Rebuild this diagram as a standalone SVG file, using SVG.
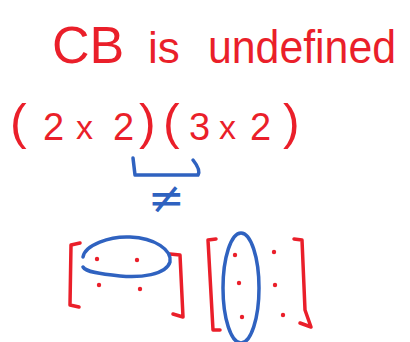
<svg xmlns="http://www.w3.org/2000/svg" width="410" height="342" viewBox="0 0 410 342">
<style>
.r{fill:none;stroke:#ea1f2a;stroke-width:3.5;stroke-linecap:round;stroke-linejoin:round}
.b{fill:none;stroke:#2f62c0;stroke-width:3.5;stroke-linecap:round;stroke-linejoin:round}
.rt{fill:#ea1f2a;font-family:"Liberation Sans",Arial,sans-serif}
.bt{fill:#2f62c0;font-family:"DejaVu Sans",sans-serif}
.d{fill:#ea1f2a}
</style>
<rect width="410" height="342" fill="#fff"/>
<g id="title">
<text class="rt" x="52" y="63" font-size="52">CB</text>
<text class="rt" x="148" y="63" font-size="44">is</text>
<text class="rt" x="208" y="63" font-size="46" textLength="188" lengthAdjust="spacingAndGlyphs">undefined</text>
</g>
<g id="dims">
<text class="rt" x="10" y="139" font-size="50">(</text>
<text class="rt" x="43" y="140" font-size="38">2</text>
<text class="rt" x="76" y="139" font-size="34">x</text>
<text class="rt" x="113" y="140" font-size="38">2</text>
<text class="rt" x="139" y="139" font-size="50">)</text>
<text class="rt" x="163" y="139" font-size="50">(</text>
<text class="rt" x="189" y="140" font-size="38">3</text>
<text class="rt" x="219" y="139" font-size="34">x</text>
<text class="rt" x="250" y="140" font-size="38">2</text>
<text class="rt" x="283" y="139" font-size="50">)</text>
</g>
<g id="connectors">
<path class="b" d="M133,158 L135,175 L198,175 Q201,170 193,160"/>
</g>
<g id="neq">
<text class="bt" x="148" y="213" font-size="44">≠</text>
</g>
<g id="matrixC">
<path class="r" d="M80,243 L71,245 L70,305 L79,307"/>
<path class="r" d="M170,254 L180,255 L183,317 L173,314"/>
<path class="b" d="M83,257 C85,245 110,236 130,237 C155,238 172,250 170,262 C166,275 140,278 120,276 C100,274 86,272 83,267"/>
<circle class="d" cx="97" cy="259" r="2.2"/>
<circle class="d" cx="137" cy="260" r="2.2"/>
<circle class="d" cx="99" cy="285" r="2.2"/>
<circle class="d" cx="140" cy="289" r="2.2"/>
</g>
<g id="matrixB">
<path class="r" d="M216,239 L208,240 L213,330 L220,330"/>
<path class="r" d="M294,239 L302,240 L305,310 L311,327 L300,323"/>
<ellipse class="b" cx="241" cy="288" rx="18" ry="55"/>
<circle class="d" cx="235" cy="255" r="2.2"/>
<circle class="d" cx="274" cy="252" r="2.2"/>
<circle class="d" cx="239" cy="283" r="2.2"/>
<circle class="d" cx="275" cy="285" r="2.2"/>
<circle class="d" cx="242" cy="317" r="2.2"/>
<circle class="d" cx="283" cy="315" r="2.2"/>
</g>
</svg>
